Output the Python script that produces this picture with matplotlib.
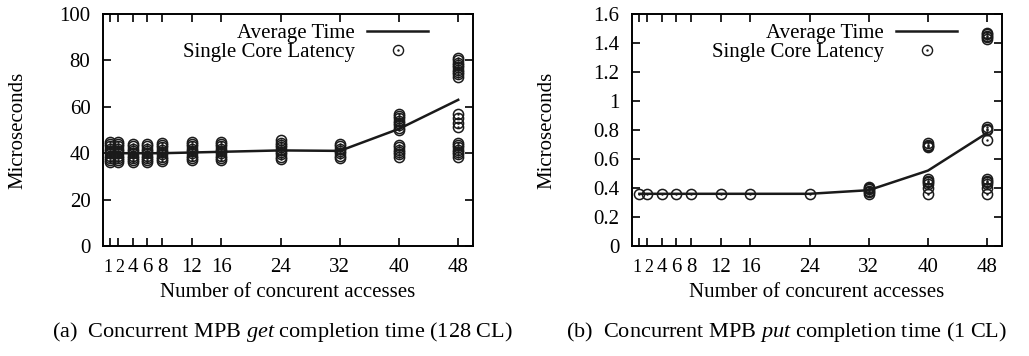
import matplotlib
matplotlib.use('Agg')
import matplotlib.pyplot as plt
import matplotlib.transforms as mtransforms

plt.rcParams['font.family'] = 'Liberation Serif'
plt.rcParams['font.size'] = 15
plt.rcParams['mathtext.fontset'] = 'custom'
plt.rcParams['mathtext.rm'] = 'Liberation Serif'
plt.rcParams['mathtext.it'] = 'Liberation Serif:italic'

xticks = [1, 2, 4, 6, 8, 12, 16, 24, 32, 40, 48]

# get (128 CL): latency samples per number of concurrent accesses
get_pts = {
    1: [36, 37, 38, 39, 40, 41, 42, 43, 44, 45],
    2: [36, 37, 38, 39, 40, 41, 42, 43, 44, 45],
    4: [36, 37, 38, 39, 40, 41, 42, 43, 44],
    6: [36, 37, 38, 39, 40, 41, 42, 43, 44],
    8: [36.5, 37.5, 38.5, 39.5, 40.5, 41.5, 42.5, 43.5, 44.5],
    12: [37, 38, 39, 40, 41, 42, 43, 44, 45],
    16: [37, 38, 39, 40, 41, 42, 43, 44, 45],
    24: [37.5, 38.5, 39.5, 40.5, 41.5, 42.5, 43.5, 44.5, 45.5],
    32: [38, 39, 40, 41, 42, 43, 44],
    40: [38.5, 39.5, 40.5, 41.5, 42.5, 43.5, 50, 51, 52, 53, 54, 55, 56, 57],
    48: [38.5, 39.5, 40.5, 41.5, 42.5, 43.5, 44.5, 51.5, 53, 55, 57,
         73, 74, 75, 76, 77, 78, 79, 80, 81],
}
get_avg = [40, 40, 40, 40, 40, 40.3, 40.6, 41.2, 41, 50.5, 63]

# put (1 CL)
put_pts = {
    1: [0.36], 2: [0.36], 4: [0.36], 6: [0.36], 8: [0.36],
    12: [0.36], 16: [0.36], 24: [0.36],
    32: [0.36, 0.37, 0.38, 0.39, 0.40, 0.41],
    40: [0.36, 0.40, 0.43, 0.44, 0.45, 0.46, 0.68, 0.69, 0.70, 0.71],
    48: [0.36, 0.40, 0.43, 0.44, 0.45, 0.46, 0.73, 0.80, 0.81, 0.82,
         1.43, 1.44, 1.45, 1.46, 1.47],
}
put_avg = [0.36, 0.36, 0.36, 0.36, 0.36, 0.36, 0.36, 0.36, 0.385, 0.52, 0.78]

fig = plt.figure(figsize=(10.29, 3.56), dpi=100)
ax1 = fig.add_axes([103 / 1029, 1 - 246 / 356, 370 / 1029, 232 / 356])
ax2 = fig.add_axes([632 / 1029, 1 - 246 / 356, 370 / 1029, 232 / 356])

ink = '#1a1a1a'


def draw(ax, pts, avg, ylim, yticks, yfmt):
    xs, ys = [], []
    for k in xticks:
        for v in pts[k]:
            xs.append(k)
            ys.append(v)
    line, = ax.plot(xticks, avg, color=ink, lw=1.8, zorder=3)
    ax.plot(xs, ys, 'o', mfc='none', mec=ink, ms=7.3, mew=1.1, zorder=2)
    ax.plot(xs, ys, '.', color=ink, ms=1.5, zorder=2)
    circ, = ax.plot([], [], 'o', mfc='none', mec=ink, ms=7.3, mew=1.0)
    dot, = ax.plot([], [], '.', color=ink, ms=1.5)
    ax.set_xlim(0, 50)
    ax.set_ylim(*ylim)
    ax.set_xticks(xticks)
    ax.set_xticklabels([str(t) for t in xticks])
    ax.set_yticks(yticks)
    ax.set_yticklabels([yfmt(t) for t in yticks])
    ax.tick_params(direction='in', top=True, right=True, length=6, width=1.2,
                   labelsize=15)
    ax.tick_params(axis='x', pad=9)
    ax.tick_params(axis='y', pad=9)
    labs = ax.get_xticklabels()
    for lab, dx in zip(labs[:2], (-1.5, 1.5)):
        lab.set_fontsize(13)
        lab.set_transform(lab.get_transform() +
                          mtransforms.ScaledTranslation(dx / 72, 0, fig.dpi_scale_trans))
    for s in ax.spines.values():
        s.set_linewidth(1.4)
    ax.set_xlabel('Number of concurent accesses', fontsize=15)
    ax.set_ylabel('Microseconds', fontsize=15)
    ax.xaxis.set_label_coords(0.5, -0.16)
    ax.yaxis.set_label_coords(-0.205, 0.5)
    leg = ax.legend([line, (circ, dot)], ['Average Time', 'Single Core Latency'],
                    loc='upper right', frameon=False, markerfirst=False,
                    fontsize=15, handlelength=2.9, handletextpad=0.6,
                    borderpad=0, borderaxespad=0, labelspacing=0.0,
                    bbox_to_anchor=(0.878, 0.96))
    for t in leg.get_texts():
        t.set_ha('right')


draw(ax1, get_pts, get_avg, (0, 100), [0, 20, 40, 60, 80, 100], lambda t: '%d' % t)
draw(ax2, put_pts, put_avg, (0, 1.6), [0, 0.2, 0.4, 0.6, 0.8, 1.0, 1.2, 1.4, 1.6],
     lambda t: '%g' % t)

fig.text(282 / 1029, 1 - 332 / 356, '(a)  Concurrent MPB $\\it{get}$ completion time (128 CL)',
         ha='center', va='center', fontsize=16)
fig.text(787 / 1029, 1 - 332 / 356, '(b)  Concurrent MPB $\\it{put}$ completion time (1 CL)',
         ha='center', va='center', fontsize=16)

fig.savefig('out.png', dpi=100)
